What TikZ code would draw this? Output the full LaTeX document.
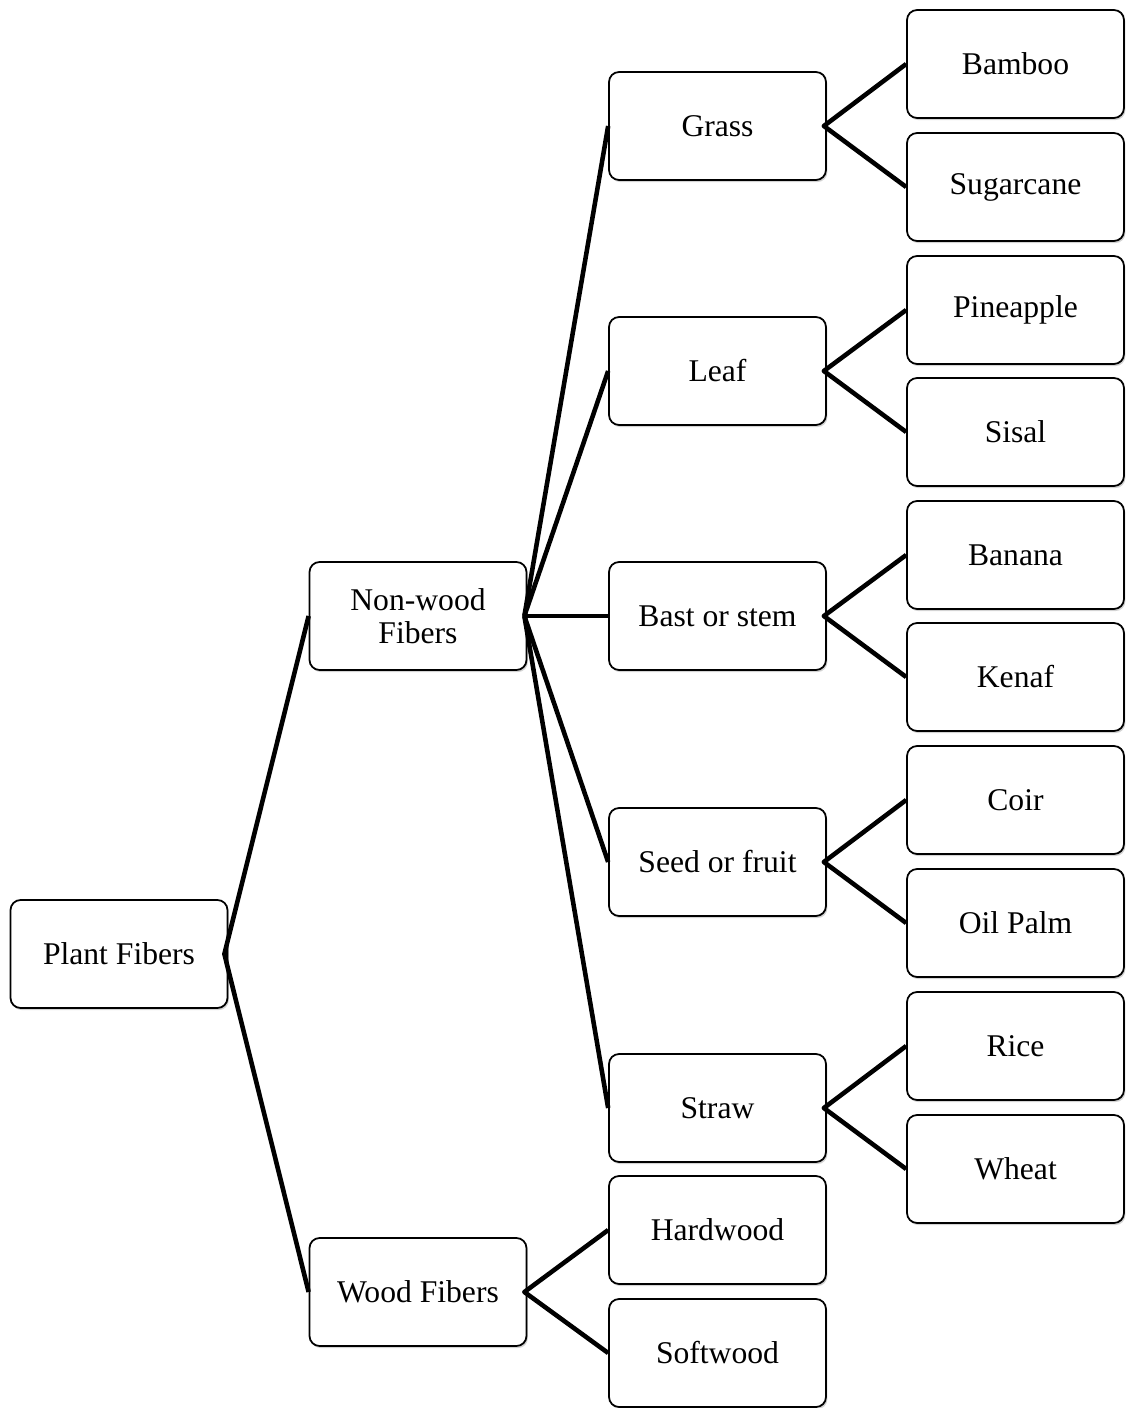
\documentclass[tikz,border=0pt]{standalone}
\usepackage{fontspec}
\setmainfont{Liberation Serif}
\usetikzlibrary{shadows}
\begin{document}
\begin{tikzpicture}[x=0.02cm,y=-0.02cm,
  box/.style={draw=black, line width=1pt, rounded corners=0.2cm, fill=white,
    minimum width=4.34cm, minimum height=2.16cm, inner sep=0pt, align=center,
    font=\fontsize{18}{18.5}\selectfont,
    drop shadow={shadow xshift=0.8pt, shadow yshift=-1.2pt, opacity=0.35}},
  conn/.style={line width=2.6pt, line join=round}]
\useasboundingbox (0,0) rectangle (1126,1408);
% level 0
\node[box] (pf) at (119,954) {Plant Fibers};
% level 1
\node[box] (nw) at (418,616) {Non-wood\\Fibers};
\node[box] (wf) at (418,1292) {Wood Fibers};
% level 2
\node[box] (grass) at (717.5,126) {Grass};
\node[box] (leaf) at (717.5,371) {Leaf};
\node[box] (bast) at (717.5,616) {Bast or stem};
\node[box] (seed) at (717.5,862) {Seed or fruit};
\node[box] (straw) at (717.5,1108) {Straw};
\node[box] (hard) at (717.5,1230) {Hardwood};
\node[box] (soft) at (717.5,1353) {Softwood};
% level 3
\node[box] (bamboo) at (1015.5,64) {Bamboo};
\node[box] (sugar) at (1015.5,187) {Sugarcane};
\node[box] (pine) at (1015.5,310) {Pineapple};
\node[box] (sisal) at (1015.5,432) {Sisal};
\node[box] (banana) at (1015.5,555) {Banana};
\node[box] (kenaf) at (1015.5,677) {Kenaf};
\node[box] (coir) at (1015.5,800) {Coir};
\node[box] (oil) at (1015.5,923) {Oil Palm};
\node[box] (rice) at (1015.5,1046) {Rice};
\node[box] (wheat) at (1015.5,1169) {Wheat};
% branch points
\coordinate (pfo) at ([xshift=-0.08cm]pf.east);
\coordinate (nwo) at ([xshift=-0.06cm]nw.east);
\coordinate (wfo) at ([xshift=-0.06cm]wf.east);
\coordinate (grasso) at ([xshift=-0.06cm]grass.east);
\coordinate (leafo) at ([xshift=-0.06cm]leaf.east);
\coordinate (basto) at ([xshift=-0.06cm]bast.east);
\coordinate (seedo) at ([xshift=-0.06cm]seed.east);
\coordinate (strawo) at ([xshift=-0.06cm]straw.east);
% connectors
\draw[conn] (nw.west) -- (pfo) -- (wf.west);
\draw[conn] (nwo) -- (grass.west);
\draw[conn] (nwo) -- (leaf.west);
\draw[conn] (nwo) -- (bast.west);
\draw[conn] (nwo) -- (seed.west);
\draw[conn] (nwo) -- (straw.west);
\draw[conn] (hard.west) -- (wfo) -- (soft.west);
\draw[conn] (bamboo.west) -- (grasso) -- (sugar.west);
\draw[conn] (pine.west) -- (leafo) -- (sisal.west);
\draw[conn] (banana.west) -- (basto) -- (kenaf.west);
\draw[conn] (coir.west) -- (seedo) -- (oil.west);
\draw[conn] (rice.west) -- (strawo) -- (wheat.west);
\end{tikzpicture}
\end{document}
